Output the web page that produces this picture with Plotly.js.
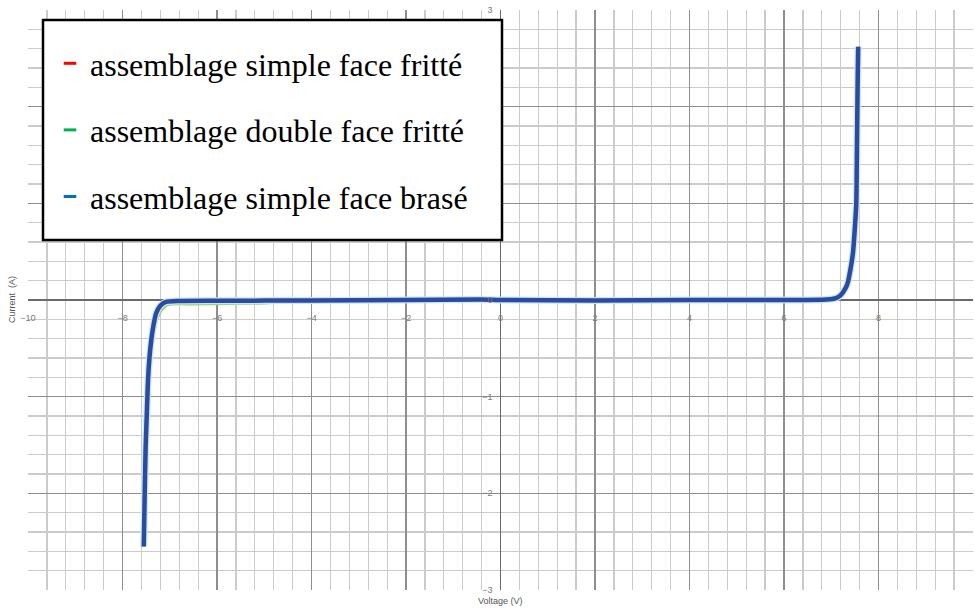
<!DOCTYPE html>
<html>
<head>
<meta charset="utf-8">
<script src="https://cdn.plot.ly/plotly-3.0.1.min.js"></script>
<style>html,body{margin:0;padding:0;background:#fff;}#chart{width:975px;height:610px;}</style>
</head>
<body>
<div id="chart"></div>
<script>
// ---- data ----
const seriesNames = [
  "assemblage simple face fritté",
  "assemblage double face fritté",
  "assemblage simple face brasé"
];
const legendColors = ["#ff0000", "#00b050", "#0070c0"];

// simple face fritté (hidden under the others in the picture)
const xSimpleFritte = [-7.55,-7.53,-7.51,-7.48,-7.46,-7.43,-7.39,-7.34,-7.29,-7.2,-7.08,-6.8,-6,-4,-2,0,2,4,6,6.9,7.1,7.2,7.3,7.35,7.4,7.46,7.5,7.53,7.54,7.55,7.56,7.57];
const ySimpleFritte = [-2.55,-2.0,-1.52,-1.1,-0.83,-0.6,-0.41,-0.25,-0.14,-0.06,-0.02,-0.01,-0.008,-0.005,0,0,-0.005,0,0,0.005,0.02,0.05,0.12,0.18,0.3,0.49,0.75,1.0,1.4,1.86,2.3,2.62];

// double face fritté (visible slightly below near -7 .. -4.5 V)
const xDoubleFritte = [-7.54,-7.53,-7.5,-7.47,-7.44,-7.4,-7.35,-7.28,-7.18,-7.05,-6.5,-6,-5.5,-5,-4.6,-4.3,-2,0,2,4,6,6.9,7.1,7.2,7.3,7.35,7.4,7.46,7.5,7.53,7.54,7.55,7.56,7.57];
const yDoubleFritte = [-2.5,-2.0,-1.5,-1.1,-0.8,-0.55,-0.35,-0.2,-0.1,-0.045,-0.038,-0.035,-0.032,-0.028,-0.018,-0.005,0,0,-0.005,0,0,0.005,0.02,0.05,0.12,0.18,0.3,0.49,0.75,1.0,1.4,1.86,2.3,2.6];

// simple face brasé (dark blue curve on top)
const xSimpleBrase = [-7.55,-7.53,-7.51,-7.48,-7.46,-7.43,-7.39,-7.34,-7.29,-7.2,-7.08,-6.8,-6,-4,-2,-0.4,0,2,4,6,6.9,7.1,7.2,7.3,7.35,7.4,7.46,7.5,7.53,7.54,7.55,7.56,7.57];
const ySimpleBrase = [-2.55,-2.0,-1.52,-1.1,-0.83,-0.6,-0.41,-0.25,-0.14,-0.06,-0.02,-0.01,-0.008,-0.005,0,0.005,0,-0.005,0,0,0.005,0.02,0.05,0.12,0.18,0.3,0.49,0.75,1.0,1.4,1.86,2.3,2.62];

const xTickVals = [-10,-8,-6,-4,-2,0,2,4,6,8,10];
const yTickVals = [-3,-2,-1,0,1,2,3];
const xTitle = "Voltage (V)";
const yTitle = "Current  (A)";

// ---- traces ----
const traces = [
  {x: xSimpleFritte, y: ySimpleFritte, mode: "lines", line: {color: "#c0392b", width: 3, shape: "spline", smoothing: 0.6}, showlegend: false, hoverinfo: "skip", name: seriesNames[0]},
  {x: xDoubleFritte, y: yDoubleFritte, mode: "lines", line: {color: "#8fd05c", width: 3.5, shape: "spline", smoothing: 0.6}, showlegend: false, hoverinfo: "skip", name: seriesNames[1]},
  {x: xSimpleBrase, y: ySimpleBrase, mode: "lines", line: {color: "#c6e7f6", width: 7, shape: "spline", smoothing: 0.6}, showlegend: false, hoverinfo: "skip", name: seriesNames[2]},
  {x: xSimpleBrase, y: ySimpleBrase, mode: "lines", line: {color: "#2c4a9e", width: 4.5, shape: "spline", smoothing: 0.6}, showlegend: false, hoverinfo: "skip", name: seriesNames[2]}
];
// legend entries (short coloured dashes, like the reference)
seriesNames.forEach(function (n, i) {
  traces.push({x: [null], y: [null], mode: "markers", name: n, legendgroup: "g" + i,
    marker: {symbol: "line-ew", size: 9, color: legendColors[i], line: {color: legendColors[i], width: 3}}});
});

const tickFont = {family: "Liberation Sans, Arial, sans-serif", size: 9, color: "#7a7a7a"};

const layout = {
  width: 975, height: 610,
  margin: {l: 28, r: 2, t: 10, b: 20, pad: 0},
  paper_bgcolor: "#ffffff", plot_bgcolor: "#ffffff",
  showlegend: true,
  xaxis: {
    range: [-10, 10], anchor: "free", position: 0.5, automargin: false,
    tickmode: "array", tickvals: xTickVals,
    showgrid: true, gridcolor: "#8e8e8e", gridwidth: 1.3,
    minor: {dtick: 0.4, tick0: 0, showgrid: true, gridcolor: "#cbcbcb", gridwidth: 1.2},
    zeroline: true, zerolinecolor: "#6a6a6a", zerolinewidth: 1.4,
    showline: false, ticks: "", tickfont: tickFont, ticklabelstandoff: 11,
    fixedrange: true
  },
  yaxis: {
    range: [-3, 3], anchor: "free", position: 0.5, automargin: false,
    tickmode: "array", tickvals: yTickVals,
    showgrid: true, gridcolor: "#8e8e8e", gridwidth: 1.3,
    minor: {dtick: 0.2, tick0: 0, showgrid: true, gridcolor: "#cbcbcb", gridwidth: 1.2},
    zeroline: true, zerolinecolor: "#6a6a6a", zerolinewidth: 1.4,
    showline: false, ticks: "", tickfont: tickFont, ticklabelstandoff: 8,
    fixedrange: true
  },
  legend: {
    xref: "paper", yref: "paper",
    x: (50 - 28) / 945, xanchor: "left",
    y: (590 - 36) / 580, yanchor: "top",
    bgcolor: "rgba(0,0,0,0)", borderwidth: 0,
    font: {family: "Liberation Serif, Times New Roman, serif", size: 32, color: "#000"},
    traceorder: "grouped", tracegroupgap: 22, itemwidth: 30
  },
  shapes: [
    {type: "rect", xref: "paper", yref: "paper", layer: "above",
     x0: (43 - 28) / 945, x1: (502 - 28) / 945, y0: (590 - 240) / 580, y1: (590 - 20) / 580,
     fillcolor: "#ffffff", line: {color: "#000000", width: 2.5}}
  ],
  annotations: [
    {text: xTitle, xref: "paper", yref: "paper", x: 0.5, y: -11 / 580, yanchor: "middle",
     showarrow: false, font: {family: "Liberation Sans, Arial, sans-serif", size: 9, color: "#555"}},
    {text: yTitle, xref: "paper", yref: "paper", x: -16 / 945, y: 0.5, xanchor: "center", textangle: -90,
     showarrow: false, font: {family: "Liberation Sans, Arial, sans-serif", size: 9, color: "#555"}}
  ]
};

Plotly.newPlot("chart", traces, layout, {displayModeBar: false, staticPlot: true});
</script>
</body>
</html>
